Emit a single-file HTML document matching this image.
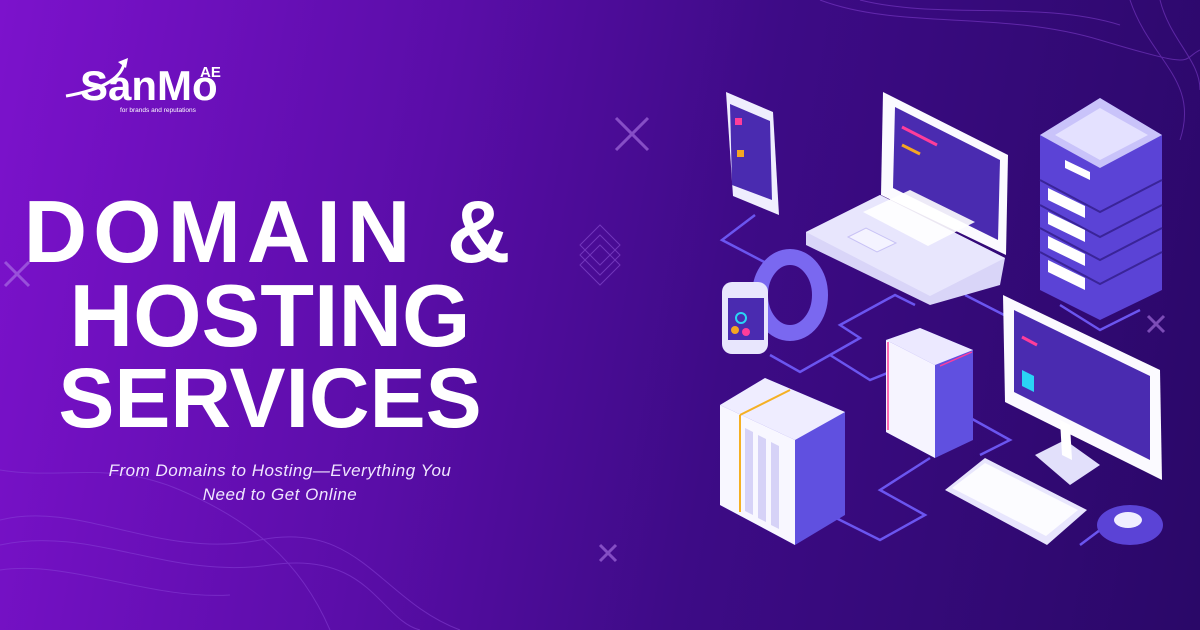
<!DOCTYPE html>
<html><head><meta charset="utf-8"><style>
body{margin:0;width:1200px;height:630px;overflow:hidden;font-family:"Liberation Sans",sans-serif}
.bg{position:absolute;inset:0;background:linear-gradient(100deg,#7c12cc 0%,#5a0da8 35%,#3d0b86 60%,#2a0868 100%)}
.t{position:absolute;left:0;width:540px;text-align:center;color:#fff;font-weight:bold;font-size:88px;line-height:1}
.sub{position:absolute;left:40px;width:480px;text-align:center;color:#f0e6ff;font-style:italic;font-size:17px;line-height:24px;letter-spacing:0.5px}
</style></head><body>
<div class="bg"></div>
<svg style="position:absolute;left:0;top:0" width="1200" height="630">
<g stroke="#8a45d8" stroke-width="1" fill="none" opacity="0.5">
<path d="M0 520 C80 500 160 560 260 540 S380 600 460 630"/><path d="M0 545 C90 525 170 580 270 565 S380 620 420 630"/>
<path d="M0 570 C70 560 150 600 230 595"/><path d="M0 470 C60 480 110 460 180 490 S300 560 330 630"/>
<path d="M820 0 C900 30 1000 10 1100 40 S1180 60 1200 50"/><path d="M860 0 C940 20 1040 0 1120 25"/>
<path d="M1130 0 C1150 60 1200 80 1180 140"/><path d="M1160 0 C1170 40 1200 60 1200 90"/>
</g>
<g stroke="#b07ae8" stroke-width="3" opacity="0.6"><path d="M616 118l32 32M648 118l-32 32"/><path d="M5 262l24 24M29 262l-24 24"/><path d="M600 545l16 16M616 545l-16 16"/><path d="M1148 316l16 16M1164 316l-16 16"/></g>
<g stroke="#9a60e0" fill="none" opacity="0.5"><path d="M600 225l20 20-20 20-20-20z"/><path d="M600 235l20 20-20 20-20-20z"/><path d="M600 245l20 20-20 20-20-20z"/></g>
<!-- logo -->
<text x="80" y="100" fill="#fff" font-size="42" font-weight="bold" font-family="Liberation Sans">SanMo</text>
<text x="200" y="77" fill="#fff" font-size="15" font-weight="bold">AE</text>
<text x="120" y="112" fill="#fff" font-size="6.5">for brands and reputations</text>
<path d="M66 96 C100 90 120 80 124 64" stroke="#fff" stroke-width="3" fill="none"/><path d="M118 62l10-4-2 10z" fill="#fff"/>
<!-- connectors -->
<g stroke="#6b55f0" stroke-width="2.5" fill="none">
<path d="M755 215 L722 240 L770 265"/><path d="M770 355 L800 372 L830 355 L860 338 L840 325 L895 295 L915 305"/>
<path d="M830 355 L870 380 L895 370"/><path d="M965 295 L1010 318"/><path d="M1060 305 L1100 330 L1140 310"/>
<path d="M930 458 L880 490 L925 515 L880 540 L830 515 L800 540"/><path d="M965 415 L1010 440 L980 455"/>
<path d="M1100 530 L1080 545"/>
</g>
<!-- phone -->
<path d="M726 92 L773 112 L779 215 L733 196 Z" fill="#efeefe"/><path d="M730 104 L770 121 L772 200 L732 185 Z" fill="#4a2bb0"/>
<rect x="735" y="118" width="7" height="7" fill="#ff3d9a"/><rect x="737" y="150" width="7" height="7" fill="#f5a623"/>
<!-- laptop -->
<path d="M883 92 L1008 155 L1006 255 L881 195 Z" fill="#fbfaff"/><path d="M895 107 L1000 160 L998 240 L893 188 Z" fill="#4a2bb0"/>
<path d="M902 127 L937 145" stroke="#ff3d9a" stroke-width="3"/><path d="M902 145 L920 154" stroke="#f5a623" stroke-width="3"/>
<path d="M806 232 L880 195 L1005 258 L1000 285 L930 305 L806 245 Z" fill="#d9d5f8"/>
<path d="M806 232 L880 195 L1005 258 L930 296 Z" fill="#e8e6fd"/>
<path d="M863 212 L910 190 L975 222 L928 246 Z" fill="#fff" opacity="0.9"/><path d="M848 237 L866 228 L896 243 L877 252 Z" fill="#f4f3ff" stroke="#c8c2f5"/>
<!-- server stack -->
<path d="M1040 135 L1100 98 L1162 135 L1162 290 L1100 320 L1040 290 Z" fill="#5b43d6"/>
<path d="M1040 135 L1100 98 L1162 135 L1100 168 Z" fill="#c9c3fa"/><path d="M1055 135 L1100 108 L1148 135 L1100 160 Z" fill="#e4e1ff"/>
<g stroke="#3a2498" stroke-width="2" fill="none"><path d="M1040 180 L1100 212 L1162 180"/><path d="M1040 205 L1100 237 L1162 205"/><path d="M1040 228 L1100 260 L1162 228"/><path d="M1040 252 L1100 284 L1162 252"/></g>
<g fill="#fff"><path d="M1048 188 L1085 206 L1085 218 L1048 200 Z"/><path d="M1048 212 L1085 230 L1085 242 L1048 224 Z"/><path d="M1048 236 L1085 254 L1085 266 L1048 248 Z"/><path d="M1048 260 L1085 278 L1085 290 L1048 272 Z"/><path d="M1065 160 L1090 172 L1090 180 L1065 168Z"/></g>
<!-- watch -->
<ellipse cx="790" cy="295" rx="30" ry="38" fill="none" stroke="#7a68f0" stroke-width="16"/>
<rect x="722" y="282" width="46" height="72" rx="10" fill="#e8e6fd"/><rect x="728" y="298" width="36" height="42" fill="#4a2bb0"/>
<circle cx="741" cy="318" r="5" fill="none" stroke="#2ad4f5" stroke-width="2"/><circle cx="735" cy="330" r="4" fill="#f5a623"/><circle cx="746" cy="332" r="4" fill="#ff3d9a"/>
<!-- monitor -->
<path d="M1003 295 L1160 370 L1162 480 L1005 402 Z" fill="#fbfaff"/><path d="M1014 310 L1150 376 L1150 460 L1014 392 Z" fill="#4a2bb0"/>
<path d="M1022 337 L1037 345" stroke="#ff3d9a" stroke-width="3"/><path d="M1022 370 L1034 376 L1034 392 L1022 386 Z" fill="#2ad4f5"/>
<path d="M1035 455 L1065 440 L1100 465 L1070 485 Z" fill="#e2e0fb"/><path d="M1060 420 L1070 425 L1072 460 L1062 455Z" fill="#fff"/>
<!-- small tower -->
<path d="M886 340 L920 328 L973 350 L973 440 L935 458 L886 432 Z" fill="#6050e0"/>
<path d="M886 340 L920 328 L973 350 L935 365 Z" fill="#ece9ff"/><path d="M886 340 L935 365 L935 458 L886 432 Z" fill="#f6f4ff"/>
<path d="M888 342 L888 430 M940 366 L972 352" stroke="#ff3d9a" stroke-width="1.5" fill="none"/>
<!-- NAS -->
<path d="M720 405 L765 378 L845 412 L845 515 L795 545 L720 505 Z" fill="#6050e0"/>
<path d="M720 405 L765 378 L845 412 L795 440 Z" fill="#efedff"/><path d="M720 405 L795 440 L795 545 L720 505 Z" fill="#f8f7ff"/>
<path d="M740 415 L740 512 M740 415 L790 390" stroke="#f5b023" stroke-width="2" fill="none"/>
<g fill="#d6d2f7"><path d="M745 428 L753 432 L753 515 L745 511Z"/><path d="M758 435 L766 439 L766 522 L758 518Z"/><path d="M771 442 L779 446 L779 529 L771 525Z"/></g>
<!-- keyboard -->
<path d="M945 490 L985 458 L1087 510 L1047 545 Z" fill="#e8e6fd"/><path d="M952 488 L985 463 L1078 510 L1046 536 Z" fill="#fff" opacity="0.85"/>
<!-- mouse -->
<ellipse cx="1130" cy="525" rx="33" ry="20" fill="#5b43d6"/><ellipse cx="1128" cy="520" rx="14" ry="8" fill="#f0eeff"/>
</svg>
<div class="t" style="top:188px;letter-spacing:6px">DOMAIN &amp;</div>
<div class="t" style="top:272px;letter-spacing:0px">HOSTING</div>
<div class="t" style="top:356px;font-size:84px;letter-spacing:0px">SERVICES</div>
<div class="sub" style="top:459px">From Domains to Hosting—Everything You<br>Need to Get Online</div>
</body></html>
